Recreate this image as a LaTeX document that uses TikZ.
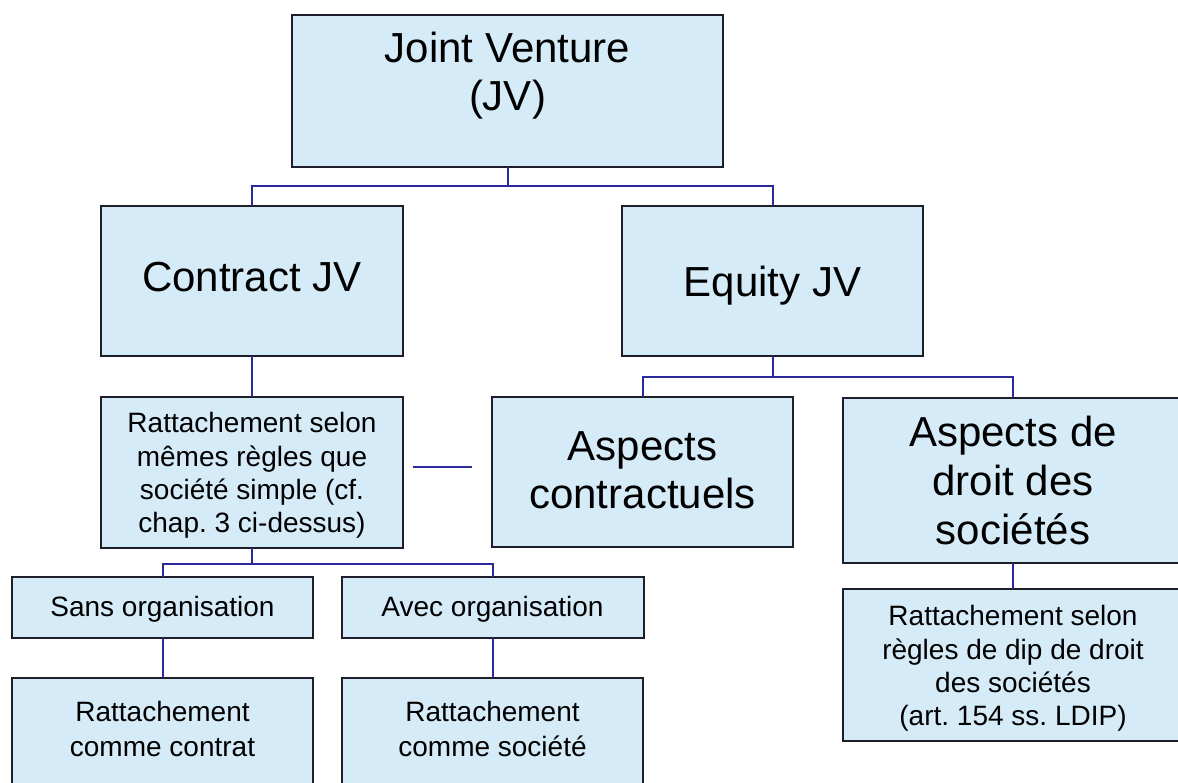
\documentclass[tikz,border=0pt]{standalone}
\usepackage{fontspec}
\setmainfont{Liberation Sans}
\usetikzlibrary{calc}
\frenchspacing
\definecolor{boxfill}{HTML}{D6EBF8}
\definecolor{boxline}{HTML}{1E1E2A}
\definecolor{connline}{HTML}{2A2A9C}
\tikzset{
  box/.style={rectangle, draw=boxline, fill=boxfill, line width=2pt, inner sep=0pt, outer sep=0pt},
  bigtxt/.style={align=center, inner sep=0pt, text=black, font=\fontsize{42}{48}\selectfont\frenchspacing},
  bigtxtb/.style={align=center, inner sep=0pt, text=black, font=\fontsize{42}{49}\selectfont\frenchspacing},
  smalltxt/.style={align=center, inner sep=0pt, text=black, font=\fontsize{28}{33.3}\selectfont\frenchspacing},
  smalltxtb/.style={align=center, inner sep=0pt, text=black, font=\fontsize{28}{35}\selectfont\frenchspacing},
  conn/.style={draw=connline, line width=2pt},
}
\begin{document}
\begin{tikzpicture}[x=1pt, y=-1pt]
\useasboundingbox (0,0) rectangle (1178,783);
\clip (0,0) rectangle (1178,783);
\fill[white] (0,0) rectangle (1178,783);

% boxes
\node[box, minimum width=431, minimum height=152] (jv)   at (507.5,91) {};
\node[box, minimum width=302, minimum height=150] (cjv)  at (252,281) {};
\node[box, minimum width=301, minimum height=150] (ejv)  at (772.5,281) {};
\node[box, minimum width=302, minimum height=151] (rat)  at (252,472.5) {};
\node[box, minimum width=301, minimum height=150] (asp1) at (642.5,472) {};
\node[box, minimum width=340, minimum height=165] (asp2) at (1013,480.5) {};
\node[box, minimum width=301, minimum height=61]  (sans) at (162.5,607.5) {};
\node[box, minimum width=302, minimum height=61]  (avec) at (492.5,607.5) {};
\node[box, minimum width=301, minimum height=152] (rc)   at (162.5,754) {};
\node[box, minimum width=301, minimum height=152] (rs)   at (492.5,754) {};
\node[box, minimum width=340, minimum height=152] (dip)  at (1013,665) {};

% texts
\node[bigtxt] (jvt) at (507.5,76) {Joint Venture\\(JV)};
\node[bigtxt] (cjvt) at (252,276.7) {Contract JV};
\node[bigtxt] (ejvt) at (772.5,286) {Equity JV};
\node[smalltxt] (ratt) at (252,475.5) {Rattachement selon\\mêmes règles que\\société simple (cf.\\chap. 3 ci-dessus)};
\node[bigtxt] (asp1t) at (642.5,470) {Aspects\\contractuels};
\node[bigtxtb] (asp2t) at (1013,480.5) {Aspects de\\droit des\\sociétés};
\node[smalltxt] (sanst) at (162.5,609.6) {Sans organisation};
\node[smalltxt] (avect) at (492.5,609.6) {Avec organisation};
\node[smalltxtb] (rct) at (162.5,729.3) {Rattachement\\comme contrat};
\node[smalltxtb] (rst) at (492.5,729.3) {Rattachement\\comme société};
\node[smalltxt] (dipt) at (1013,668.5) {Rattachement selon\\règles de dip de droit\\des sociétés\\(art. 154 ss. LDIP)};

% connectors
\coordinate (j1) at ($(jv.south)+(0,19)$);
\draw[conn] (jv.south) -- (j1);
\draw[conn] (j1) -| (cjv.north);
\draw[conn] (j1) -| (ejv.north);
\draw[conn] (cjv.south) -- (rat.north);
\coordinate (e1) at ($(ejv.south)+(0,21)$);
\draw[conn] (ejv.south) -- (e1);
\draw[conn] (e1) -| (asp1.north);
\draw[conn] (e1) -| (asp2.north);
\coordinate (r1) at ($(rat.south)+(0,16)$);
\draw[conn] (rat.south) -- (r1);
\draw[conn] (r1) -| (sans.north);
\draw[conn] (r1) -| (avec.north);
\draw[conn] (sans.south) -- (rc.north);
\draw[conn] (avec.south) -- (rs.north);
\draw[conn] (asp2.south) -- (dip.north);
\coordinate (s1) at ($(rat.east)+(10,-5.5)$);
\coordinate (s2) at ($(asp1.west)+(-20,-5)$);
\draw[conn] (s1) -- (s2);
\end{tikzpicture}
\end{document}
